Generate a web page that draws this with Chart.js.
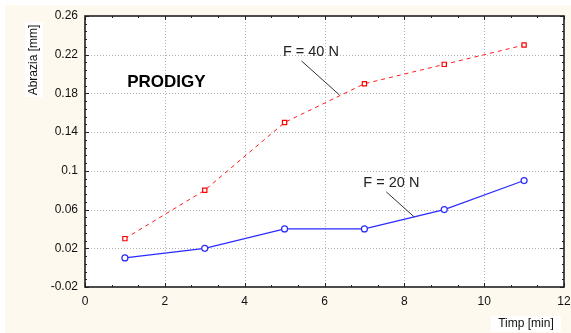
<!DOCTYPE html>
<html><head><meta charset="utf-8">
<script src="https://cdn.jsdelivr.net/npm/chart.js@4.4.0/dist/chart.umd.min.js"></script>
<style>html,body{margin:0;padding:0;background:#fff;overflow:hidden}#wrap{width:571px;height:333px;position:relative}</style>
</head><body><div id="wrap"><canvas id="c" width="571" height="333"></canvas></div>
<script>
const timeMin = [1, 3, 5, 7, 9, 11];
const abr40 = [0.03, 0.08, 0.15, 0.19, 0.21, 0.23];
const abr20 = [0.01, 0.02, 0.04, 0.04, 0.06, 0.09];
const seriesNames = ['F = 40 N', 'F = 20 N'];
const xTickValues = [0, 2, 4, 6, 8, 10, 12];
const xTickLabels = ['0', '2', '4', '6', '8', '10', '12'];
const yTickValues = [-0.02, 0.02, 0.06, 0.1, 0.14, 0.18, 0.22, 0.26];
const yTickLabels = ['-0.02', '0.02', '0.06', '0.1', '0.14', '0.18', '0.22', '0.26'];
const xTitle = 'Timp [min]';
const yTitle = 'Abrazia [mm]';
const chartLabel = 'PRODIGY';

const FONT = '"Liberation Sans", Arial, sans-serif';
const CREAM = '#fdf9ee';

function pts(ys) { return timeMin.map((x, i) => ({ x: x, y: ys[i] })); }

const deco = {
  id: 'deco',
  beforeDraw(chart) {
    const c = chart.ctx, a = chart.chartArea;
    c.save();
    c.fillStyle = '#fff'; c.fillRect(0, 0, chart.width, chart.height);
    c.fillStyle = CREAM; c.fillRect(5, 5, chart.width - 5, chart.height - 5);
    c.fillStyle = '#fff'; c.fillRect(a.left, a.top, a.right - a.left, a.bottom - a.top);
    c.restore();
  },
  beforeDatasetsDraw(chart) {
    const c = chart.ctx, a = chart.chartArea;
    const xs = chart.scales.x, ys = chart.scales.y;
    c.save();
    c.strokeStyle = '#b4b4b4'; c.lineWidth = 1; c.setLineDash([1, 2]);
    xTickValues.slice(1, -1).forEach(v => {
      const px = Math.round(xs.getPixelForValue(v)) + 0.5;
      c.beginPath(); c.moveTo(px, a.top); c.lineTo(px, a.bottom); c.stroke();
    });
    yTickValues.slice(1, -1).forEach(v => {
      const py = Math.round(ys.getPixelForValue(v)) + 0.5;
      c.beginPath(); c.moveTo(a.left, py); c.lineTo(a.right, py); c.stroke();
    });
    c.setLineDash([]);
    c.strokeStyle = '#222'; c.lineWidth = 1;
    const xmin = xTickValues[0], xmax = xTickValues[xTickValues.length - 1];
    const ymin = yTickValues[0], ymax = yTickValues[yTickValues.length - 1];
    const xStepMinor = (xTickValues[1] - xTickValues[0]) / 3;
    const yStepMinor = (yTickValues[1] - yTickValues[0]) / 5;
    for (let k = 0; xmin + k * xStepMinor <= xmax + 1e-9; k++) {
      const v = xmin + k * xStepMinor;
      const len = (k % 3 === 0) ? 4 : 2;
      const px = Math.round(xs.getPixelForValue(v)) + 0.5;
      c.beginPath();
      c.moveTo(px, a.bottom); c.lineTo(px, a.bottom - len);
      c.moveTo(px, a.top); c.lineTo(px, a.top + len);
      c.stroke();
    }
    for (let k = 0; ymin + k * yStepMinor <= ymax + 1e-9; k++) {
      const v = ymin + k * yStepMinor;
      const len = (k % 5 === 0) ? 4 : 2;
      const py = Math.round(ys.getPixelForValue(v)) + 0.5;
      c.beginPath();
      c.moveTo(a.left, py); c.lineTo(a.left + len, py);
      c.moveTo(a.right, py); c.lineTo(a.right - len, py);
      c.stroke();
    }
    c.strokeStyle = '#202020'; c.lineWidth = 1.6;
    c.strokeRect(a.left, a.top, a.right - a.left, a.bottom - a.top);
    c.restore();
  },
  afterDraw(chart) {
    const c = chart.ctx;
    const xs = chart.scales.x, ys = chart.scales.y;
    const P = (x, y) => [xs.getPixelForValue(x), ys.getPixelForValue(y)];
    c.save();
    c.fillStyle = '#fff'; c.fillRect(25, 22, 18, 75);
    c.translate(34, 60); c.rotate(-Math.PI / 2);
    c.fillStyle = '#111'; c.font = '12px ' + FONT;
    c.textAlign = 'center'; c.textBaseline = 'middle';
    c.fillText(yTitle, 0, 0);
    c.restore();
    c.save();
    c.fillStyle = '#fff'; c.fillRect(491, 316, 70, 16);
    c.fillStyle = '#111'; c.font = '12px ' + FONT;
    c.textAlign = 'center'; c.textBaseline = 'middle';
    c.fillText(xTitle, 526, 324);
    c.font = 'bold 17px ' + FONT; c.fillStyle = '#000';
    let p = P(2.04, 0.1918); c.fillText(chartLabel, p[0], p[1]);
    c.font = '14.5px ' + FONT; c.fillStyle = '#222';
    p = P(5.66, 0.2228); c.fillText(seriesNames[0], p[0], p[1]);
    p = P(7.675, 0.0875); c.fillText(seriesNames[1], p[0], p[1]);
    c.strokeStyle = '#333'; c.lineWidth = 1;
    let s = P(5.425, 0.2135), e = P(6.375, 0.1784);
    c.beginPath(); c.moveTo(s[0], s[1]); c.lineTo(e[0], e[1]); c.stroke();
    s = P(7.55, 0.0782); e = P(8.25, 0.0523);
    c.beginPath(); c.moveTo(s[0], s[1]); c.lineTo(e[0], e[1]); c.stroke();
    c.restore();
  }
};

new Chart(document.getElementById('c'), {
  type: 'line',
  data: {
    datasets: [
      { label: seriesNames[0], data: pts(abr40), borderColor: '#ff1a1a', borderWidth: 1, borderDash: [4, 4],
        pointStyle: 'rect', pointRadius: 3, pointBackgroundColor: '#fff', pointBorderColor: '#ff0000', pointBorderWidth: 1.2, tension: 0 },
      { label: seriesNames[1], data: pts(abr20), borderColor: '#2a2aff', borderWidth: 1.2,
        pointStyle: 'circle', pointRadius: 3, pointBackgroundColor: '#fff', pointBorderColor: '#2a2aff', pointBorderWidth: 1.2, tension: 0 }
    ]
  },
  options: {
    responsive: false, animation: false, devicePixelRatio: 1,
    layout: { padding: { left: 0, right: 0, top: 16, bottom: 0 } },
    plugins: { legend: { display: false }, tooltip: { enabled: false } },
    scales: {
      x: {
        type: 'linear', min: xTickValues[0], max: xTickValues[xTickValues.length - 1],
        afterFit(s) { s.height = 46; s.paddingRight = 7; },
        afterBuildTicks(s) { s.ticks = xTickValues.map(v => ({ value: v })); },
        grid: { display: false, drawTicks: false }, border: { display: false },
        ticks: { callback: (v, i) => xTickLabels[i], color: '#111', font: { family: FONT, size: 12 }, padding: 7, maxRotation: 0, autoSkip: false }
      },
      y: {
        type: 'linear', min: yTickValues[0], max: yTickValues[yTickValues.length - 1],
        afterFit(s) { s.width = 85; },
        afterBuildTicks(s) { s.ticks = yTickValues.map(v => ({ value: v })); },
        grid: { display: false, drawTicks: false }, border: { display: false },
        ticks: { callback: (v, i) => yTickLabels[i], color: '#111', font: { family: FONT, size: 12 }, padding: 7, autoSkip: false }
      }
    }
  },
  plugins: [deco]
});
</script></body></html>
